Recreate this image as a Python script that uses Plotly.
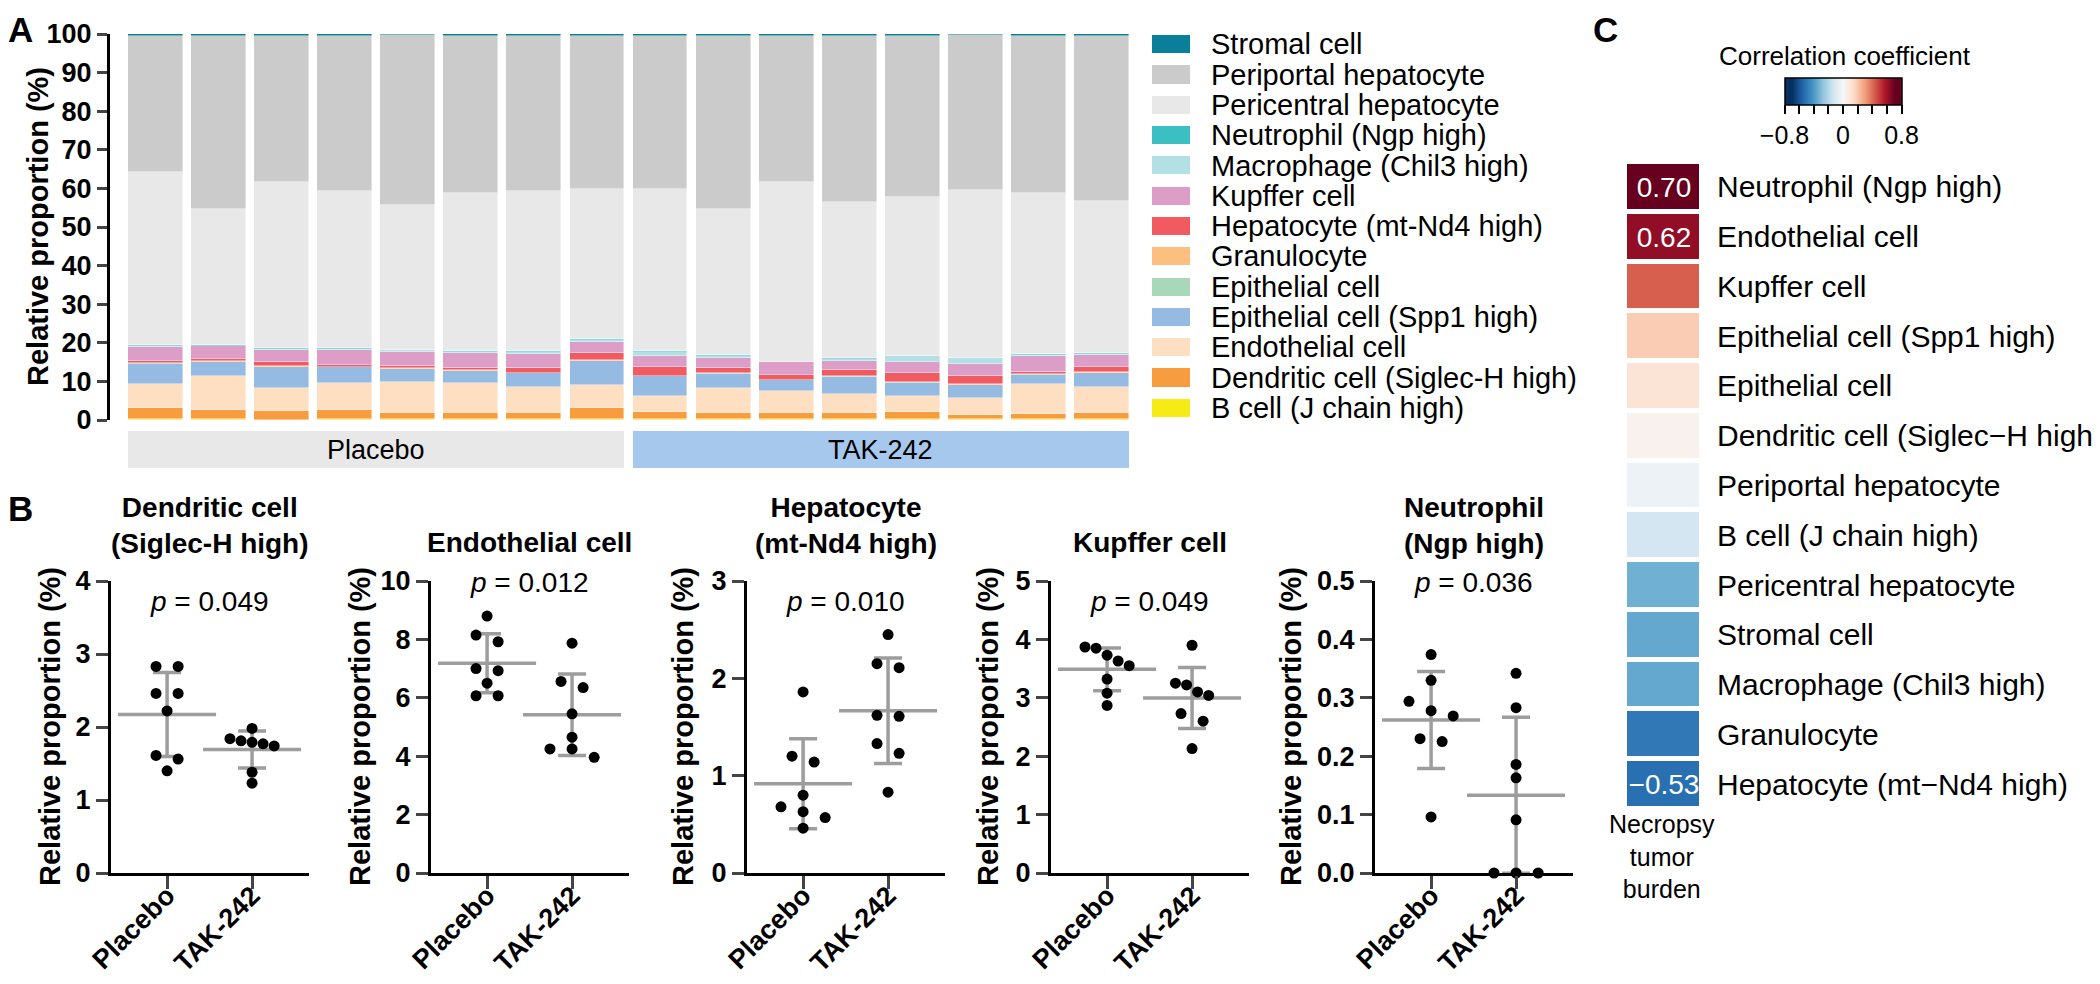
import numpy as np
import plotly.graph_objects as go

W, H = 2100, 984
OFF = 8  # the page body adds an 8 px margin around the figure
FONT = 'Liberation Sans, Arial, sans-serif'


def fx(p):
    return (p - OFF) / W


def fy(p):
    return 1 - (p - OFF) / H


# ---------------- panel A: stacked cell proportions per sample ----------------
samples = list(range(16))
group_names = ['Placebo', 'TAK-242']
group_centers = [3.5, 11.5]
group_colors = ['#e8e8e8', '#a6c8ec']

# bottom -> top of the stack
cell_types = ['B cell (J chain high)', 'Dendritic cell (Siglec-H high)', 'Endothelial cell',
              'Epithelial cell (Spp1 high)', 'Epithelial cell', 'Granulocyte',
              'Hepatocyte (mt-Nd4 high)', 'Kupffer cell', 'Macrophage (Chil3 high)',
              'Neutrophil (Ngp high)', 'Pericentral hepatocyte', 'Periportal hepatocyte',
              'Stromal cell']
cell_colors = ['#f6eb14', '#f89c40', '#fedfc1', '#96bbe3', '#a8d8b9', '#fdbf7f',
               '#f15a60', '#dc9ec7', '#b2e0e4', '#3cbfc3', '#e8e8e8', '#cbcbcb', '#0a7f99']

b_cell = [0.15, 0.14, 0.13, 0.15, 0.15, 0.15, 0.15, 0.15, 0.2, 0.15, 0.15, 0.15, 0.3, 0.15, 0.15, 0.15]
dendritic = [2.85, 2.45, 2.2, 2.5, 1.65, 1.65, 1.55, 2.85, 1.95, 1.75, 1.75, 1.75, 1.75, 1.25, 1.4, 1.65]
endothelial = [6.4, 8.8, 6.0, 6.9, 8.0, 7.85, 6.8, 6.05, 4.0, 6.3, 5.5, 4.75, 4.2, 4.2, 7.85, 6.65]
epi_spp1 = [5.2, 3.7, 5.45, 4.1, 3.45, 3.1, 3.6, 6.3, 5.2, 3.8, 2.9, 4.6, 3.45, 3.45, 2.35, 3.8]
epithelial = [0.05, 0.05, 0.05, 0.05, 0.05, 0.05, 0.05, 0.05, 0.05, 0.05, 0.05, 0.05, 0.05, 0.05, 0.05, 0.05]
granulocyte = [0.05, 0.05, 0.05, 0.05, 0.05, 0.05, 0.05, 0.05, 0.05, 0.05, 0.1, 0.1, 0.2, 0.15, 0.05, 0.05]
hep_nd4 = [0.6, 0.7, 1.1, 0.5, 0.6, 0.7, 1.2, 1.8, 2.2, 1.4, 1.2, 1.55, 2.35, 2.1, 0.7, 1.5]
kupffer = [3.6, 3.2, 3.1, 3.8, 3.7, 3.7, 3.6, 2.95, 2.9, 2.65, 3.25, 2.25, 2.7, 3.2, 4.0, 3.1]
macrophage = [0.2, 0.1, 0.2, 0.25, 0.5, 0.4, 0.6, 0.6, 1.1, 0.5, 0.2, 0.6, 1.5, 1.4, 0.2, 0.1]
neutrophil = [0.25, 0.3, 0.3, 0.3, 0.1, 0.3, 0.3, 0.3, 0.1, 0.3, 0.05, 0.25, 0.1, 0.05, 0.35, 0.2]
pericentral = [44.9, 35.3, 43.0, 40.7, 37.55, 40.75, 41.4, 38.7, 42.05, 37.65, 46.45, 40.55, 41.1, 43.6, 41.6, 39.45]
periportal = [35.3, 44.8, 38.0, 40.2, 43.9, 40.85, 40.2, 39.75, 39.7, 44.9, 38.0, 42.8, 41.9, 40.1, 40.9, 42.9]
stromal = [0.5, 0.4, 0.4, 0.5, 0.3, 0.45, 0.5, 0.45, 0.5, 0.5, 0.4, 0.6, 0.4, 0.3, 0.4, 0.4]

stack = [b_cell, dendritic, endothelial, epi_spp1, epithelial, granulocyte, hep_nd4,
         kupffer, macrophage, neutrophil, pericentral, periportal, stromal]

# ---------------- panel B: selected cell types, placebo vs TAK-242 ----------------
b_titles = ['Dendritic cell<br>(Siglec-H high)', 'Endothelial cell', 'Hepatocyte<br>(mt-Nd4 high)',
            'Kupffer cell', 'Neutrophil<br>(Ngp high)']
b_pvals = ['0.049', '0.012', '0.010', '0.049', '0.036']
b_ymax = [4, 10, 3, 5, 0.5]
b_dtick = [1, 2, 1, 1, 0.1]
b_groups = ['Placebo', 'TAK-242']

placebo_vals = [
    [2.83, 2.83, 2.46, 2.46, 2.22, 1.61, 1.56, 1.40],
    [8.80, 8.15, 7.92, 7.00, 6.93, 6.50, 6.07, 6.07],
    [1.86, 1.20, 1.14, 0.80, 0.68, 0.63, 0.57, 0.46],
    [3.87, 3.85, 3.73, 3.63, 3.55, 3.32, 3.08, 2.87],
    [0.374, 0.330, 0.294, 0.278, 0.269, 0.230, 0.225, 0.096],
]
tak_vals = [
    [1.98, 1.84, 1.81, 1.79, 1.77, 1.74, 1.38, 1.23],
    [7.87, 6.56, 6.35, 5.45, 4.65, 4.25, 4.25, 3.96],
    [2.45, 2.15, 2.11, 1.62, 1.61, 1.33, 1.23, 0.83],
    [3.90, 3.25, 3.22, 3.10, 3.04, 2.73, 2.60, 2.13],
    [0.342, 0.283, 0.186, 0.163, 0.091, 0.0, 0.0, 0.0],
]

# ---------------- panel C: correlation with necropsy tumor burden ----------------
heat_rows = ['Neutrophil (Ngp high)', 'Endothelial cell', 'Kupffer cell', 'Epithelial cell (Spp1 high)',
             'Epithelial cell', 'Dendritic cell (Siglec\u2212H high)', 'Periportal hepatocyte',
             'B cell (J chain high)', 'Pericentral hepatocyte', 'Stromal cell',
             'Macrophage (Chil3 high)', 'Granulocyte', 'Hepatocyte (mt\u2212Nd4 high)']
heat_corr = [0.70, 0.62, 0.42, 0.18, 0.10, 0.03, -0.04, -0.13, -0.34, -0.36, -0.36, -0.50, -0.53]
heat_text = ['0.70', '0.62', '', '', '', '', '', '', '', '', '', '', '\u22120.53']
heat_xlabel = 'Necropsy<br>tumor<br>burden'

rdbu = ['#053061', '#2166ac', '#4393c3', '#92c5de', '#d1e5f0', '#f7f7f7',
        '#fddbc7', '#f4a582', '#d6604d', '#b2182b', '#67001f']
# colour mapping spans +-0.7, the bar is drawn from -0.8 to 0.8
cscale = [[0.0, rdbu[0]]]
for i, c in enumerate(rdbu):
    cscale.append([0.0625 + i * 0.0875, c])
cscale.append([1.0, rdbu[-1]])

fig = go.Figure()

# A: stacked bars
for name, col, vals in zip(cell_types, cell_colors, stack):
    fig.add_trace(go.Bar(x=samples, y=vals, name=name, width=0.87,
                         marker=dict(color=col, line=dict(color='rgba(255,255,255,0.7)', width=0.6)),
                         xaxis='x', yaxis='y'))

# A: group bars below
fig.add_trace(go.Bar(x=group_centers, y=[1, 1], width=7.87, marker=dict(color=group_colors, line=dict(width=0)),
                     xaxis='x2', yaxis='y2'))

# A: legend swatches
legend_order = cell_types[::-1]
fig.add_trace(go.Bar(x=[1] * len(legend_order), y=legend_order, orientation='h', width=0.6,
                     marker=dict(color=cell_colors[::-1], line=dict(width=0)), xaxis='x3', yaxis='y3'))


def swarm(values, ymax, center):
    ppu = 292.0 / ymax
    vals = np.asarray(values, dtype=float)
    order = np.argsort(-vals, kind='stable')
    xs = np.zeros(len(vals))
    i = 0
    while i < len(order):
        j = i
        while j + 1 < len(order) and (vals[order[j]] - vals[order[j + 1]]) * ppu < 10:
            j += 1
        n = j - i + 1
        step = 0.26 if n <= 3 else 0.13
        for k in range(n):
            xs[order[i + k]] = center + (k - (n - 1) / 2.0) * step
        i = j + 1
    return xs


b_starts = [111, 431, 747, 1051, 1375]
b_width = 198
title_y = [525, 542, 525, 542, 525]
pval_y = [601, 582, 601, 601, 582]
ytitle_x = [50, 360, 683, 988, 1291]

layout_axes = {}
annotations = []

for k in range(5):
    ax = k + 4
    xa, ya = f'x{ax}', f'y{ax}'
    groups = [placebo_vals[k], tak_vals[k]]
    means = [np.mean(g) for g in groups]
    sds = [np.std(g, ddof=1) for g in groups]
    fig.add_trace(go.Scatter(x=[0, 1], y=means, mode='markers',
                             marker=dict(symbol='line-ew-open', size=70, color='#9d9d9d',
                                         line=dict(color='#9d9d9d', width=3.5)),
                             error_y=dict(type='data', array=sds, color='#9d9d9d', thickness=3.5, width=14),
                             xaxis=xa, yaxis=ya))
    for gi, g in enumerate(groups):
        fig.add_trace(go.Scatter(x=swarm(g, b_ymax[k], gi), y=g, mode='markers', cliponaxis=False,
                                 marker=dict(size=11, color='black'), xaxis=xa, yaxis=ya))

    layout_axes[f'xaxis{ax}'] = dict(domain=[fx(b_starts[k]), fx(b_starts[k] + b_width)], range=[-0.66, 1.67],
                                     anchor=ya, tickvals=[0, 1], ticktext=b_groups, tickangle=-45,
                                     tickfont=dict(size=27, weight='bold'), ticks='outside', ticklen=13,
                                     tickwidth=3, showline=True, linewidth=3, linecolor='black',
                                     showgrid=False, zeroline=False, ticklabelstandoff=-20)
    layout_axes[f'yaxis{ax}'] = dict(domain=[fy(873), fy(581)], range=[0, b_ymax[k]], dtick=b_dtick[k],
                                     tickformat='.1f' if b_ymax[k] < 1 else 'd', anchor=xa,
                                     tickfont=dict(size=27, weight='bold'), ticks='outside', ticklen=12,
                                     tickwidth=3, showline=True, linewidth=3, linecolor='black',
                                     showgrid=False, zeroline=False)
    annotations.append(dict(x=0.5, xref=xa, y=fy(title_y[k]), yref='paper', text=b_titles[k], showarrow=False,
                            xanchor='center', yanchor='middle', font=dict(size=28, weight='bold')))
    annotations.append(dict(x=0.5, xref=xa, y=fy(pval_y[k]), yref='paper', text=f'<i>p</i> = {b_pvals[k]}',
                            showarrow=False, xanchor='center', yanchor='middle', font=dict(size=28)))
    annotations.append(dict(x=fx(ytitle_x[k]), xref='paper', y=fy(727), yref='paper',
                            text='Relative proportion (%)', textangle=-90, showarrow=False,
                            xanchor='center', yanchor='middle', font=dict(size=29, weight='bold')))

# C: heatmap
fig.add_trace(go.Heatmap(z=[[v] for v in heat_corr], y=heat_rows, x=['burden'], text=[[t] for t in heat_text],
                         texttemplate='%{text}', textfont=dict(size=28, color='white'),
                         colorscale=cscale, zmin=-0.8, zmax=0.8, xgap=5, ygap=5,
                         xaxis='x9', yaxis='y9',
                         colorbar=dict(orientation='h', x=fx(1843), xanchor='center', y=fy(78), yanchor='top',
                                       len=117, lenmode='pixels', thickness=27, thicknessmode='pixels',
                                       outlinewidth=1.5, outlinecolor='black', xpad=0, ypad=0,
                                       tickvals=[-0.8, -0.6, -0.4, -0.2, 0, 0.2, 0.4, 0.6, 0.8],
                                       ticktext=['\u22120.8', '', '', '', '0', '', '', '', '0.8'],
                                       ticks='outside', ticklen=9, tickwidth=1.5, tickcolor='black',
                                       tickfont=dict(size=25, family=FONT))))

annotations.append(dict(x=fx(1845), xref='paper', y=fy(56), yref='paper', text='Correlation coefficient',
                        showarrow=False, xanchor='center', yanchor='middle', font=dict(size=26)))

annotations.append(dict(x=fx(1662), xref='paper', y=fy(856), yref='paper', text=heat_xlabel,
                        showarrow=False, xanchor='center', yanchor='middle', font=dict(size=25)))

for name, cx in zip(group_names, group_centers):
    annotations.append(dict(x=cx, xref='x2', y=0.5, yref='y2', text=name, showarrow=False,
                            xanchor='center', yanchor='middle', font=dict(size=27)))

annotations.append(dict(x=fx(20), xref='paper', y=1, yref='paper', text='A', showarrow=False,
                        xanchor='center', yanchor='top', font=dict(size=35, weight='bold')))
annotations.append(dict(x=fx(1605), xref='paper', y=1, yref='paper', text='C', showarrow=False,
                        xanchor='center', yanchor='top', font=dict(size=35, weight='bold')))
annotations.append(dict(x=fx(20), xref='paper', y=fy(508), yref='paper', text='B', showarrow=False,
                        xanchor='center', yanchor='middle', font=dict(size=35, weight='bold')))

annotations.append(dict(x=fx(38), xref='paper', y=fy(227), yref='paper', text='Relative proportion (%)',
                        textangle=-90, showarrow=False, xanchor='center', yanchor='middle',
                        font=dict(size=29, weight='bold')))

fig.update_layout(
    width=W, height=H, margin=dict(l=0, r=0, t=0, b=0, pad=0, autoexpand=False),
    paper_bgcolor='white', plot_bgcolor='white', showlegend=False, barmode='stack', bargap=0,
    font=dict(family=FONT, color='black'),
    xaxis=dict(domain=[fx(110), fx(1129)], range=[-0.72, 15.435], visible=False, anchor='y'),
    yaxis=dict(domain=[fy(420), fy(34)], range=[0, 100], dtick=10, anchor='x',
               tickfont=dict(size=27, weight='bold'), ticks='outside', ticklen=10, tickwidth=3,
               showline=True, linewidth=3, linecolor='black', showgrid=False, zeroline=False),
    xaxis2=dict(domain=[fx(110), fx(1129)], range=[-0.72, 15.435], visible=False, anchor='y2'),
    yaxis2=dict(domain=[fy(468), fy(431)], range=[0, 1], visible=False, anchor='x2'),
    xaxis3=dict(domain=[fx(1152), fx(1190)], range=[0, 1], visible=False, anchor='y3'),
    yaxis3=dict(domain=[fy(423), fy(29)], type='category', categoryorder='array', categoryarray=legend_order,
                tickmode='array', tickvals=legend_order, ticktext=legend_order,
                autorange='reversed', side='right', anchor='x3', ticks='', showline=False, showgrid=False,
                zeroline=False, tickfont=dict(size=29), ticklabelstandoff=20),
    xaxis9=dict(domain=[fx(1625), fx(1702)], visible=False, anchor='y9'),
    yaxis9=dict(domain=[fy(809), fy(162)], autorange='reversed', side='right', anchor='x9', ticks='',
                tickmode='array', tickvals=heat_rows, ticktext=heat_rows,
                showline=False, showgrid=False, zeroline=False, tickfont=dict(size=30),
                ticklabelstandoff=14),
    annotations=annotations,
    **layout_axes,
)

fig.write_html('out.html')
